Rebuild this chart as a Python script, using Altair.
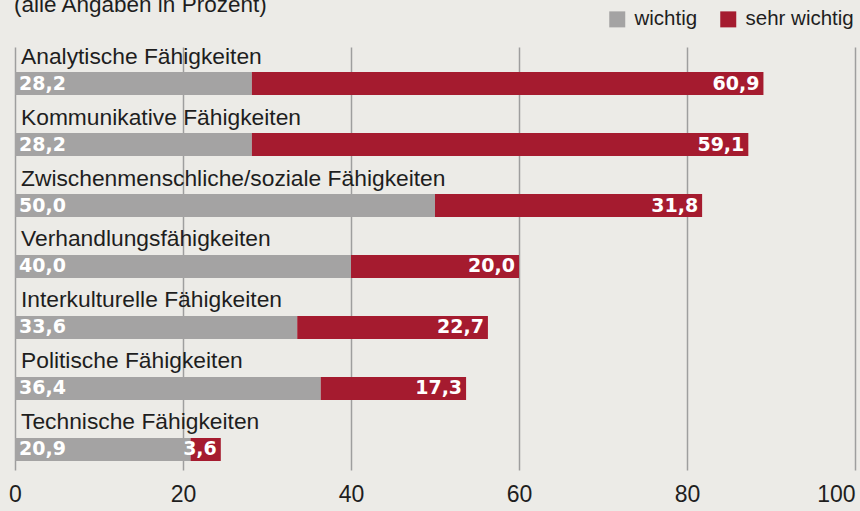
import altair as alt
import pandas as pd

title_text = "(alle Angaben in Prozent)"
categories = [
    "Analytische Fähigkeiten",
    "Kommunikative Fähigkeiten",
    "Zwischenmenschliche/soziale Fähigkeiten",
    "Verhandlungsfähigkeiten",
    "Interkulturelle Fähigkeiten",
    "Politische Fähigkeiten",
    "Technische Fähigkeiten",
]
series_names = ["wichtig", "sehr wichtig"]
wichtig = [28.2, 28.2, 50.0, 40.0, 33.6, 36.4, 20.9]
sehr_wichtig = [60.9, 59.1, 31.8, 20.0, 22.7, 17.3, 3.6]
x_ticks = [0, 20, 40, 60, 80, 100]

GRAY = "#a4a3a3"
RED = "#a51b2f"
BG = "#ecebe7"
TXT = "#1e1e1e"

def de(v):
    return f"{v:.1f}".replace(".", ",")

long_rows = []
for c, w, s in zip(categories, wichtig, sehr_wichtig):
    long_rows.append({"cat": c, "series": series_names[0], "value": w, "ord": 0})
    long_rows.append({"cat": c, "series": series_names[1], "value": s, "ord": 1})
long_df = pd.DataFrame(long_rows)

wide_df = pd.DataFrame({
    "cat": categories,
    "w": wichtig,
    "s": sehr_wichtig,
})
wide_df["total"] = wide_df["w"] + wide_df["s"]
wide_df["w_lbl"] = wide_df["w"].map(de)
wide_df["s_lbl"] = wide_df["s"].map(de)

xscale = alt.Scale(domain=[0, 100], nice=False, zero=True)
yscale = alt.Scale(paddingInner=0.623, paddingOuter=0.279, align=0.735)
ysort = categories

x_axis = alt.Axis(
    values=x_ticks, grid=True, gridColor="#9e9e9e", gridWidth=1.5,
    ticks=False, tickSize=0, domain=False, labelFontSize=23, labelColor=TXT,
    labelFont="Liberation Sans", labelPadding=13, title=None,
    labelAlign=alt.ExprRef(expr="datum.value == 100 ? 'right' : 'center'"),
)

bars = alt.Chart(long_df).mark_bar(strokeWidth=0).encode(
    x=alt.X("sum(value):Q", scale=xscale, axis=x_axis, stack="zero"),
    y=alt.Y("cat:N", sort=ysort, scale=yscale, axis=None),
    color=alt.Color(
        "series:N",
        scale=alt.Scale(domain=series_names, range=[GRAY, RED]),
        sort=series_names,
        legend=alt.Legend(
            orient="none", legendX=592, legendY=-38, direction="horizontal",
            title=None, symbolType="square", symbolSize=256, symbolStrokeWidth=0,
            labelFontSize=20.5, labelFont="Liberation Sans", labelColor=TXT,
            labelOffset=7, columnPadding=20, padding=0,
        ),
    ),
    order=alt.Order("ord:Q", sort="ascending"),
)

cat_labels = alt.Chart(wide_df).mark_text(
    align="left", baseline="alphabetic", dx=6, dy=-20, fontSize=22.8,
    font="Liberation Sans", color=TXT,
).encode(
    x=alt.datum(0),
    y=alt.Y("cat:N", sort=ysort, scale=yscale, axis=None),
    text="cat:N",
)

w_labels = alt.Chart(wide_df).mark_text(
    align="left", baseline="middle", dx=4, fontSize=19, fontWeight="bold",
    font="DejaVu Sans", color="white",
).encode(
    x=alt.datum(0),
    y=alt.Y("cat:N", sort=ysort, scale=yscale, axis=None),
    text="w_lbl:N",
)

s_labels = alt.Chart(wide_df).mark_text(
    align="right", baseline="middle", dx=-4, fontSize=19, fontWeight="bold",
    font="DejaVu Sans", color="white",
).encode(
    x=alt.X("total:Q", scale=xscale),
    y=alt.Y("cat:N", sort=ysort, scale=yscale, axis=None),
    text="s_lbl:N",
)

title_layer = alt.Chart(alt.Data(values=[{"t": title_text}])).mark_text(
    align="left", baseline="alphabetic", fontSize=22.5, font="Liberation Sans",
    color=TXT,
).encode(
    x=alt.value(-1),
    y=alt.value(-35),
    text="t:N",
)

chart = alt.layer(bars, cat_labels, w_labels, s_labels, title_layer).properties(
    width=840, height=423,
    background=BG,
    padding={"left": 15, "top": 47, "right": 5, "bottom": 41},
    autosize=alt.AutoSizeParams(type="none"),
).configure_view(stroke=None)

chart.save("out.html", embed_options={"renderer": "svg", "actions": False})
